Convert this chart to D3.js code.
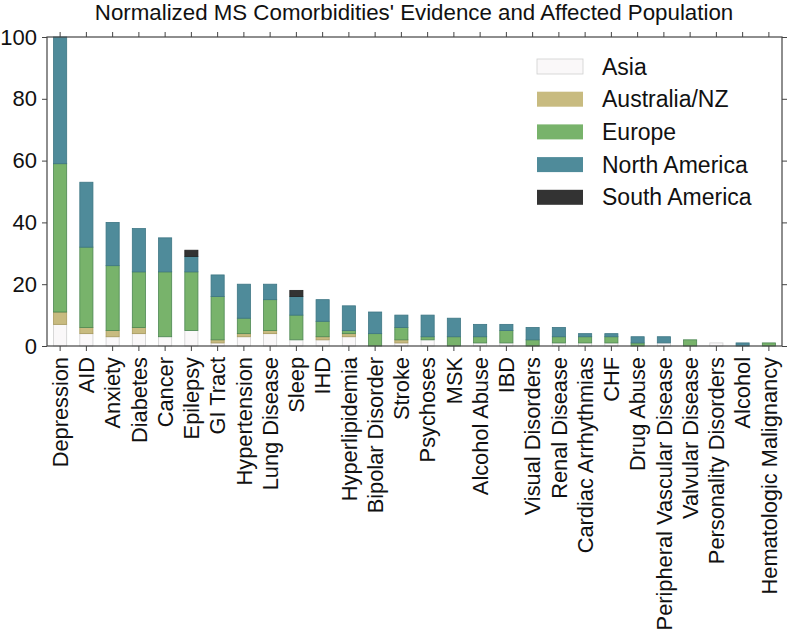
<!DOCTYPE html>
<html>
<head>
<meta charset="utf-8">
<script src="https://cdn.jsdelivr.net/npm/d3@7"></script>
<style>
  body { margin: 0; background: #fff; }
  svg { display: block; font-family: "Liberation Sans", Arial, Helvetica, sans-serif; }
</style>
</head>
<body>
<svg id="chart" width="788" height="639"></svg>
<script>
const categories = ["Depression","AID","Anxiety","Diabetes","Cancer","Epilepsy","GI Tract","Hypertension","Lung Disease","Sleep","IHD","Hyperlipidemia","Bipolar Disorder","Stroke","Psychoses","MSK","Alcohol Abuse","IBD","Visual Disorders","Renal Disease","Cardiac Arrhythmias","CHF","Drug Abuse","Peripheral Vascular Disease","Valvular Disease","Personality Disorders","Alcohol","Hematologic Malignancy"];
const seriesNames = ["Asia","Australia/NZ","Europe","North America","South America"];
const asia         = [7,4,3,4,3,5,1,3,4,2,2,3,0,1,2,0,1,1,0,1,1,1,0,1,0,1,0,0];
const australiaNZ  = [4,2,2,2,0,0,1,1,1,0,1,1,0,1,0,0,0,0,0,0,0,0,0,0,0,0,0,0];
const europe       = [48,26,21,18,21,19,14,5,10,8,5,1,4,4,1,3,2,4,2,2,2,2,1,0,2,0,0,1];
const northAmerica = [41,21,14,14,11,5,7,11,5,6,7,8,7,4,7,6,4,2,4,3,1,1,2,2,0,0,1,0];
const southAmerica = [0,0,0,0,0,2,0,0,0,2,0,0,0,0,0,0,0,0,0,0,0,0,0,0,0,0,0,0];
const yTicks = [0,20,40,60,80,100];
const title = "Normalized MS Comorbidities' Evidence and Affected Population";

const fills   = ["#faf8f9","#c8bb80","#78b36b","#4f8b9a","#333333"];
const strokes = ["#cfcfcf","#a89a5e","#4c8752","#3d7684","#222222"];

const seriesData = [asia, australiaNZ, europe, northAmerica, southAmerica];
const table = categories.map((c,i) => {
  const o = {category: c};
  seriesNames.forEach((s,j) => o[s] = seriesData[j][i]);
  return o;
});
const stacked = d3.stack().keys(seriesNames)(table);

const svg = d3.select("#chart");
const mLeft = 47, mRight = 782, mTop = 37, mBottom = 346;

const x = d3.scaleBand().domain(categories).range([mLeft, mRight]).paddingInner(0).paddingOuter(0);
const y = d3.scaleLinear().domain([0,100]).range([mBottom, mTop]);
const bw = x.step() * 0.5;

// title
svg.append("text").attr("x", 414).attr("y", 20).attr("text-anchor","middle")
  .attr("font-size", 22.3).attr("fill","#111").text(title);

// bars
const g = svg.append("g");
stacked.forEach((layer, j) => {
  g.append("g").selectAll("rect").data(layer.filter(d => d[1] - d[0] > 0)).join("rect")
    .attr("x", d => x(d.data.category) + (x.step() - bw) / 2)
    .attr("y", d => y(d[1]))
    .attr("width", bw)
    .attr("height", d => y(d[0]) - y(d[1]))
    .attr("fill", fills[j])
    .attr("stroke", strokes[j])
    .attr("stroke-width", 0.8);
});

// axes
const axisColor = "#444";
const xb = svg.append("g").attr("transform", `translate(0,${mBottom})`)
  .call(d3.axisBottom(x).tickSize(5).tickSizeOuter(0).tickPadding(6));
xb.selectAll("text")
  .attr("transform", "rotate(-90)")
  .attr("text-anchor", "end")
  .attr("x", -11).attr("y", 0).attr("dy", "0.36em")
  .attr("font-size", 21.8).attr("fill", "#111");

const xt = svg.append("g").attr("transform", `translate(0,${mTop})`)
  .call(d3.axisTop(x).tickSize(5).tickSizeOuter(0).tickFormat(""));

const yl = svg.append("g").attr("transform", `translate(${mLeft},0)`)
  .call(d3.axisLeft(y).tickValues(yTicks).tickSize(5).tickSizeOuter(0).tickPadding(5));
yl.selectAll("text").attr("font-size", 22).attr("fill", "#111");

const yr = svg.append("g").attr("transform", `translate(${mRight},0)`)
  .call(d3.axisRight(y).tickValues(yTicks).tickSize(5).tickSizeOuter(0).tickFormat(""));

[xb, xt, yl, yr].forEach(a => {
  a.attr("font-family", null);
  a.select(".domain").remove();
  a.selectAll(".tick line").attr("stroke", axisColor);
});

// frame
svg.append("rect").attr("x", mLeft).attr("y", mTop).attr("width", mRight - mLeft).attr("height", mBottom - mTop)
  .attr("fill", "none").attr("stroke", axisColor).attr("stroke-width", 1.2);

// legend
const lg = svg.append("g");
seriesNames.forEach((s, j) => {
  const cy = 66.5 + j * 32.7;
  lg.append("rect").attr("x", 537).attr("y", cy - 7.5).attr("width", 46).attr("height", 15)
    .attr("fill", fills[j]).attr("stroke", j === 0 ? "#cfcfcf" : "none").attr("stroke-width", 0.8);
  lg.append("text").attr("x", 602).attr("y", cy).attr("dy", "0.35em")
    .attr("font-size", 23).attr("fill", "#111").text(s);
});
</script>
</body>
</html>
